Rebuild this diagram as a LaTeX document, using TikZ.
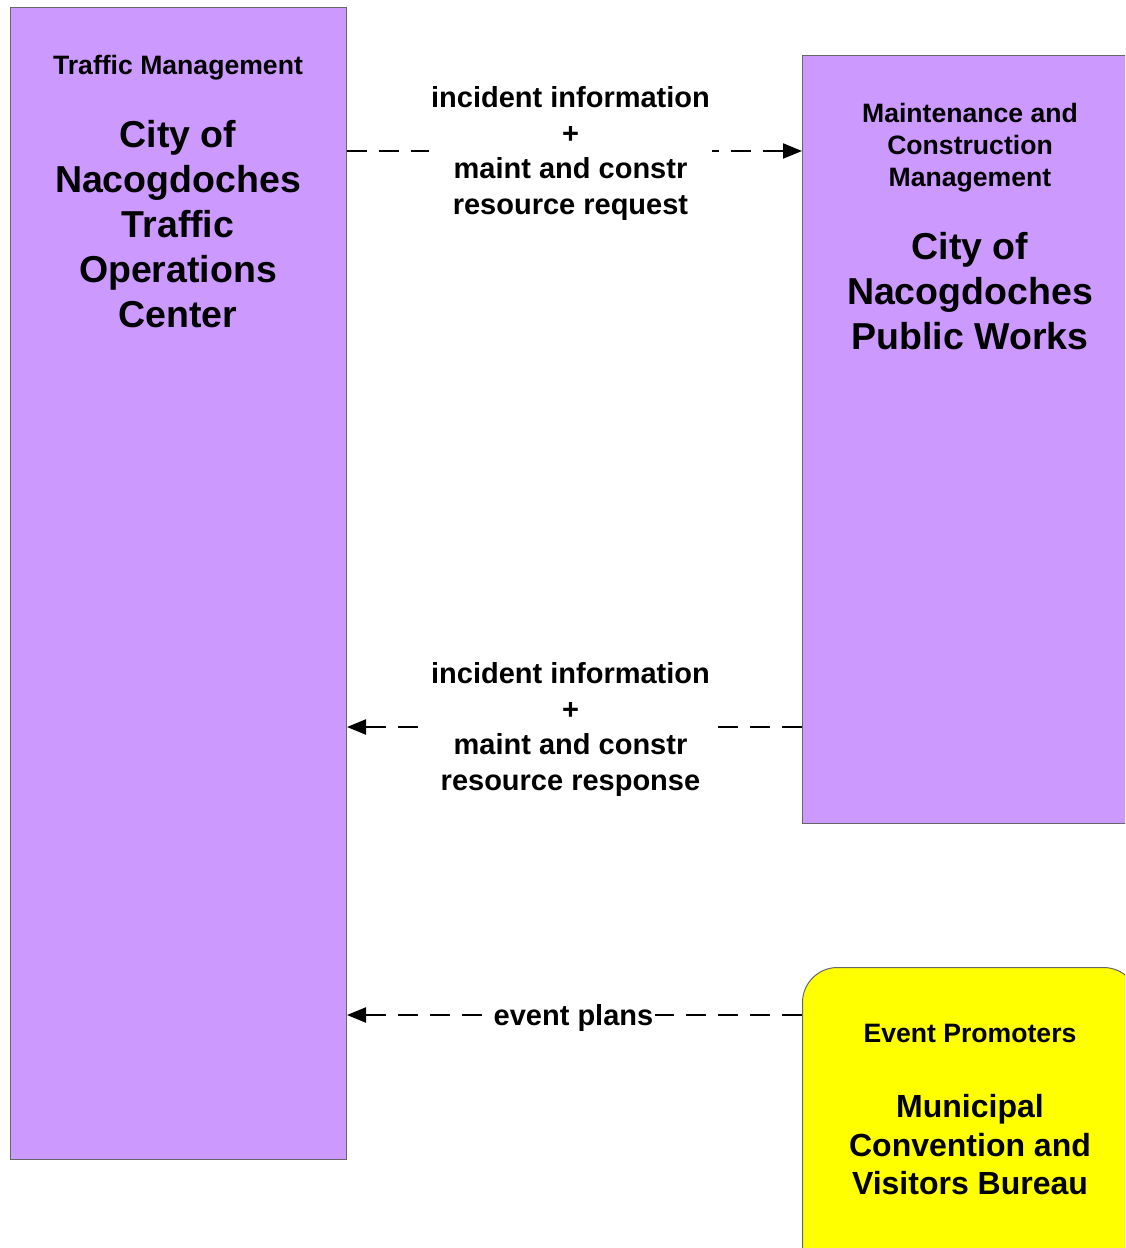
\documentclass[tikz,border=0pt]{standalone}
\usepackage{fontspec}
\setmainfont{Liberation Sans}
\usetikzlibrary{arrows.meta}
\definecolor{lav}{HTML}{CC99FF}
\definecolor{yel}{HTML}{FFFF00}
\definecolor{edgegray}{HTML}{666666}
\begin{document}
\begin{tikzpicture}[x=1pt,y=-1pt,
  box/.style={draw=edgegray, line width=1pt, fill=lav, inner sep=0pt, anchor=north west},
  ybox/.style={draw=edgegray, line width=1pt, fill=yel, inner sep=0pt, anchor=north west, rounded corners=35pt},
  smalltxt/.style={align=center, inner sep=0pt, font=\bfseries\fontsize{26.6}{32}\selectfont},
  bigtxt/.style={align=center, inner sep=0pt, font=\bfseries\fontsize{37.5}{45.2}\selectfont},
  midtxt/.style={align=center, inner sep=0pt, font=\bfseries\fontsize{32}{38.5}\selectfont},
  flow/.style={draw=black, line width=2.2pt, dash pattern=on 20pt off 12pt, -{Triangle[length=19pt,width=15pt]}},
  lab/.style={fill=white, inner sep=2pt, align=center, font=\bfseries\fontsize{29}{35.5}\selectfont}]
\useasboundingbox (0,0) rectangle (1125,1248);
\clip (0,0) rectangle (1125,1248);
\fill[white] (0,0) rectangle (1125,1248);
% boxes
\node[box, minimum width=336pt, minimum height=1152pt] (tmc) at (10,7) {};
\node[box, minimum width=336pt, minimum height=768pt] (pw) at (802,55) {};
\node[ybox, minimum width=336pt, minimum height=320pt] (cvb) at (802,967) {};
% texts
\node[smalltxt] (tmcT) at (178,68) {Traffic Management};
\node[bigtxt] (tmcN) at (178,224) {City of\\Nacogdoches\\Traffic\\Operations\\Center};
\node[smalltxt] (pwT) at (970,148) {Maintenance and\\Construction\\Management};
\node[bigtxt] (pwN) at (970,291) {City of\\Nacogdoches\\Public Works};
\node[smalltxt] (cvbT) at (970,1033) {Event Promoters};
\node[midtxt] (cvbN) at (970,1145) {Municipal\\Convention and\\Visitors Bureau};
% connector rows
\coordinate (r1) at (0,151);
\coordinate (r2) at (0,727);
\coordinate (r3) at (0,1015);
\draw[flow] (tmc.east |- r1) -- node[lab, xshift=-4pt, yshift=-2.5pt] (l1) {incident information\\+\\maint and constr\\resource request} (pw.west |- r1);
\draw[flow] (pw.west |- r2) -- node[lab, xshift=-4pt, yshift=-2.5pt] (l2) {incident information\\+\\maint and constr\\resource response} (tmc.east |- r2);
\draw[flow] (cvb.west |- r3) -- node[lab, xshift=-1pt, yshift=-2.5pt, inner ysep=0pt] (l3) {event plans} (tmc.east |- r3);
\end{tikzpicture}
\end{document}
